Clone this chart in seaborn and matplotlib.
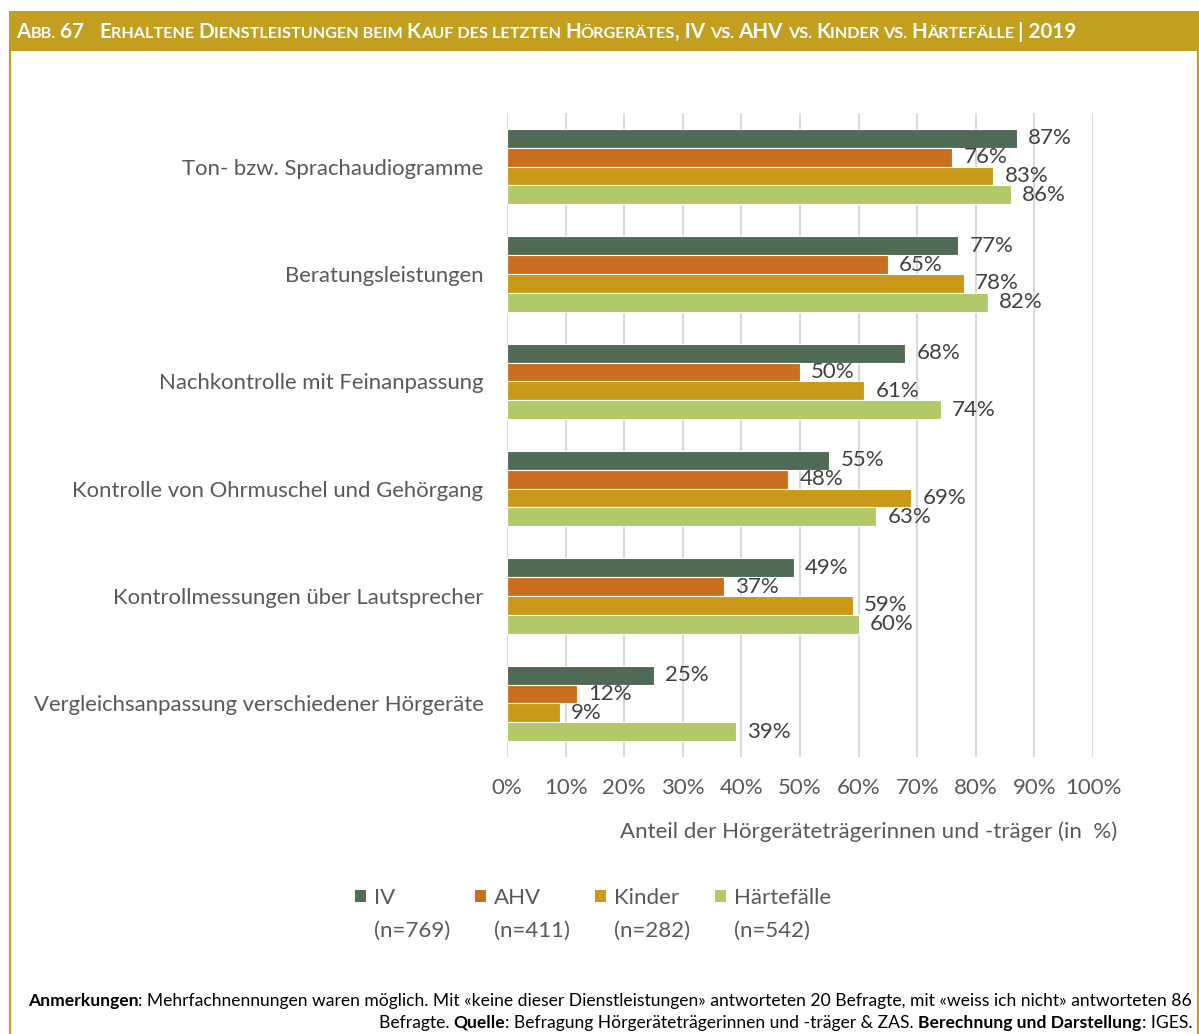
import matplotlib
matplotlib.use("Agg")
import numpy as np
import pandas as pd
import seaborn as sns
import matplotlib.pyplot as plt
from matplotlib.patches import Rectangle, Patch
from matplotlib.lines import Line2D

# ---------------- data ----------------
categories = [
    "Ton- bzw. Sprachaudiogramme",
    "Beratungsleistungen",
    "Nachkontrolle mit Feinanpassung",
    "Kontrolle von Ohrmuschel und Gehörgang",
    "Kontrollmessungen über Lautsprecher",
    "Vergleichsanpassung verschiedener Hörgeräte",
]
groups = ["IV", "AHV", "Kinder", "Härtefälle"]
group_n = ["(n=769)", "(n=411)", "(n=282)", "(n=542)"]
iv_values = [87, 77, 68, 55, 49, 25]
ahv_values = [76, 65, 50, 48, 37, 12]
kinder_values = [83, 78, 61, 69, 59, 9]
haerte_values = [86, 82, 74, 63, 60, 39]
x_ticks = [0, 10, 20, 30, 40, 50, 60, 70, 80, 90, 100]
x_label = "Anteil der Hörgeräteträgerinnen und -träger (in  %)"

series = [iv_values, ahv_values, kinder_values, haerte_values]
colors = ["#506A56", "#C96F1F", "#C99A1A", "#B2C96A"]
GOLD = "#C29F1E"
TXT = "#595959"

df = pd.DataFrame(
    [(c, g, v) for g, vals in zip(groups, series) for c, v in zip(categories, vals)],
    columns=["Kategorie", "Gruppe", "Wert"],
)

# ---------------- figure ----------------
W_PX, H_PX = 1199, 1034
DPI = 100
sns.set_theme(style="white")
plt.rcParams["font.family"] = ["Lato", "DejaVu Sans"]
fig = plt.figure(figsize=(W_PX / DPI, H_PX / DPI), dpi=DPI)


def fx(px):
    return px / W_PX


def fy(py):
    return 1 - py / H_PX


# frame (left/right) + header band
fig.add_artist(Line2D([fx(10), fx(10)], [0, fy(40)], transform=fig.transFigure, color=GOLD, linewidth=1.6))
fig.add_artist(Line2D([fx(1197.5), fx(1197.5)], [0, fy(40)], transform=fig.transFigure, color=GOLD, linewidth=1.6))
fig.patches.append(Rectangle((fx(9), fy(51)), fx(1199) - fx(9), fy(11) - fy(51), transform=fig.transFigure,
                             facecolor=GOLD, edgecolor="none"))

ax = fig.add_axes([fx(507), fy(757), fx(1093) - fx(507), fy(113) - fy(757)])
sns.barplot(data=df, y="Kategorie", x="Wert", hue="Gruppe", hue_order=groups,
            order=categories, palette=colors, orient="h", width=0.70,
            edgecolor="white", linewidth=0.8, saturation=1, ax=ax, legend=False)

ax.set_xlim(0, 100)
ax.set_xticks(x_ticks)
ax.set_xticklabels([f"{t}%" for t in x_ticks], fontsize=16, color=TXT)
ax.tick_params(axis="x", length=0, pad=15)
ax.tick_params(axis="y", length=0, pad=17, labelsize=15.9, labelcolor=TXT)
ax.set_ylabel("")
ax.set_xlabel(x_label, fontsize=16, color=TXT, ha="right", va="top")
ax.xaxis.set_label_coords((1117 - 507) / 586, -(821 - 757) / 644)
ax.grid(axis="x", color="#D9D9D9", linewidth=1.5)
ax.set_axisbelow(True)
for s in ax.spines.values():
    s.set_visible(False)

for cont, vals in zip(ax.containers, series):
    ax.bar_label(cont, labels=[f"{v}%" for v in vals], padding=8, fontsize=16, color="#404040")

# legend: first row = group names with swatches, second row = n (invisible handles)
handles, labels = [], []
for c, g, n in zip(colors, groups, group_n):
    handles += [Patch(facecolor=c, edgecolor="none"), Patch(facecolor="none", edgecolor="none")]
    labels += [g, n]
leg = fig.legend(handles, labels, ncol=4, loc="upper left", bbox_to_anchor=(fx(355), fy(888)),
                 frameon=False, fontsize=16, labelcolor=TXT, handlelength=0.5, handleheight=0.5,
                 handletextpad=0.35, columnspacing=1.13, labelspacing=0.57, borderpad=0, borderaxespad=0)


# ---------------- rich text helper ----------------
def seg_width(renderer, txt, kw):
    t1 = fig.text(0, 0, "X" + txt + "X", **kw)
    t2 = fig.text(0, 0, "XX", **kw)
    w = t1.get_window_extent(renderer).width - t2.get_window_extent(renderer).width
    t1.remove(); t2.remove()
    return w


def rich_line(segments, x_px, y_px, ha="left", target=None, scale=1.0):
    renderer = fig.canvas.get_renderer()

    def props(kw, sc):
        k = dict(kw)
        k["fontsize"] = kw["fontsize"] * sc
        return k

    if target is not None:
        tot = sum(seg_width(renderer, t, props(k, 1.0)) for t, k in segments)
        scale = target / tot
    widths = [seg_width(renderer, t, props(k, scale)) for t, k in segments]
    total = sum(widths)
    x = x_px if ha == "left" else x_px - total
    for (t, k), w in zip(segments, widths):
        fig.text(fx(x), fy(y_px), t, ha="left", va="baseline", **props(k, scale))
        x += w
    return scale


HFAM = ["Lato", "DejaVu Sans"]
B = dict(fontsize=14, fontweight="bold", color="white", family=HFAM)
S = dict(fontsize=11, fontweight="bold", color="white", family=HFAM)
header = [
    ("A", B), ("BB.", S), (" 67   ", B), ("E", B), ("RHALTENE ", S), ("D", B),
    ("IENSTLEISTUNGEN BEIM ", S), ("K", B), ("AUF DES LETZTEN ", S), ("H", B),
    ("ÖRGERÄTES", S), (", IV ", B), ("VS. ", S), ("AHV ", B), ("VS. ", S), ("K", B),
    ("INDER ", S), ("VS. ", S), ("H", B), ("ÄRTEFÄLLE ", S), ("| 2019", B),
]
rich_line(header, 16, 38, target=1075 - 16)

FR = dict(fontsize=11, color="black", family=HFAM)
FB = dict(fontsize=11, color="black", fontweight="bold", family=HFAM)
line1 = [("Anmerkungen", FB),
         (": Mehrfachnennungen waren möglich. Mit «keine dieser Dienstleistungen» antworteten 20 Befragte, "
          "mit «weiss ich nicht» antworteten 86", FR)]
line2 = [("Befragte. ", FR), ("Quelle", FB), (": Befragung Hörgeräteträgerinnen und -träger & ZAS. ", FR),
         ("Berechnung und Darstellung", FB), (": IGES.", FR)]
sc = rich_line(line1, 1192, 1006, ha="right", target=1192 - 33)
rich_line(line2, 1192, 1028, ha="right", scale=sc)

fig.savefig("out.png", dpi=DPI)
